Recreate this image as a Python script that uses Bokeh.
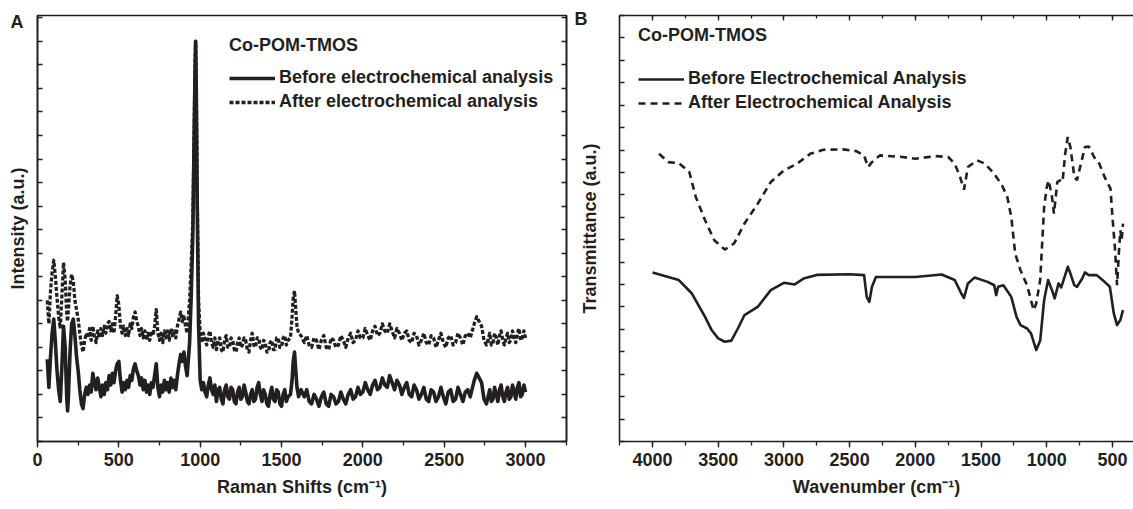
from bokeh.plotting import figure
from bokeh.models import (Range1d, LinearAxis, SingleIntervalTicker, Legend, LegendItem,
                          CustomJSTickFormatter)
from bokeh.layouts import row
from bokeh.embed import file_html
from bokeh.resources import INLINE

# ---------------- Panel A: Raman (x in cm-1, y in arbitrary units) ----------------
raman_x1 = [60, 70, 80, 90, 100, 110, 120, 130, 140, 150, 160, 170, 180, 185, 190, 200, 210, 220, 230, 240,
            250, 260, 270, 280, 290, 300]
raman_before1 = [3.5, 2.3, 3.6, 4.6, 5.2, 4.2, 3.0, 2.2, 1.7, 3.2, 4.9, 4.0, 1.8, 1.3, 1.9, 3.8, 5.0, 5.2, 4.5, 3.6,
                 3.0, 2.2, 1.6, 1.4, 2.0, 2.3]
raman_after1 = [6.0, 5.0, 6.4, 7.2, 7.7, 7.0, 6.1, 5.3, 4.8, 6.2, 7.6, 6.9, 5.4, 5.1, 5.6, 6.6, 7.1, 6.8, 6.0, 5.6,
                5.2, 4.6, 4.1, 3.8, 4.3, 4.6]

raman_x2 = [310, 320, 330, 340, 350, 360, 370, 380, 390, 400, 410, 420, 430, 440, 450, 460, 470, 480, 490, 500,
            510, 520, 530, 540, 550, 560, 570, 580, 590, 600, 610, 620, 630, 640, 650, 660, 670, 680, 690, 700,
            710, 720, 730, 740, 750, 760, 770, 780, 790, 800, 810, 820, 830, 840, 850, 860, 870, 880, 890, 900,
            910, 920]
raman_before2 = [2.0, 2.4, 2.1, 2.9, 2.5, 2.2, 2.7, 2.3, 1.9, 2.4,
                 2.0, 2.5, 2.2, 2.8, 2.4, 2.9, 2.5, 3.0, 3.3, 3.4,
                 2.6, 2.1, 2.5, 2.2, 2.6, 2.3, 2.8, 2.6, 3.1, 3.3,
                 3.0, 2.8, 2.4, 2.7, 2.2, 2.6, 2.1, 2.4, 2.0, 2.5,
                 2.3, 2.8, 3.3, 2.3, 1.9, 2.4, 2.1, 2.6, 2.2, 2.5,
                 2.1, 2.7, 2.3, 2.6, 2.2, 2.8, 3.3, 3.7, 3.4, 3.8,
                 3.2, 2.8]
raman_after2 = [4.4, 4.8, 4.3, 4.9, 4.5, 4.2, 4.7, 4.4, 4.8, 4.5,
                4.9, 4.6, 5.0, 5.1, 4.7, 5.0, 4.6, 5.3, 6.2, 5.8,
                4.9, 4.6, 4.9, 4.5, 4.8, 4.5, 5.0, 4.8, 5.3, 5.5,
                5.1, 4.9, 4.5, 4.8, 4.4, 4.7, 4.3, 4.6, 4.3, 4.7,
                4.5, 4.9, 5.6, 4.6, 4.3, 4.6, 4.2, 4.7, 4.4, 4.7,
                4.3, 4.8, 4.5, 4.7, 4.4, 4.9, 5.2, 5.5, 5.1, 5.3,
                4.9, 4.6]

raman_x3 = [935, 945, 955, 962, 968, 972, 976, 982, 990, 1000, 1010]
raman_before3 = [4.2, 6.2, 8.8, 12.5, 15.5, 17.0, 15.0, 10.0, 5.0, 2.6, 2.2]
raman_after3 = [6.0, 7.6, 9.4, 12.8, 15.8, 17.0, 15.2, 10.5, 6.0, 4.6, 4.2]

raman_x4 = [1020, 1030, 1040, 1050, 1060, 1070, 1080, 1090, 1100, 1110,
            1120, 1130, 1140, 1150, 1160, 1170, 1180, 1190, 1200, 1210,
            1220, 1230, 1240, 1250, 1260, 1270, 1280, 1290, 1300, 1310,
            1320, 1330, 1340, 1350, 1360, 1370, 1380, 1390, 1400, 1410,
            1420, 1430, 1440, 1450, 1460, 1470, 1480, 1490, 1500, 1510,
            1520, 1530, 1540]
raman_before4 = [2.5, 2.1, 1.9, 2.4, 2.7, 2.2, 2.0, 2.4, 1.7, 2.2,
                 2.3, 1.8, 1.6, 2.2, 2.4, 1.9, 1.8, 2.3, 2.2, 1.7,
                 1.6, 2.1, 2.3, 1.8, 1.9, 2.4, 2.1, 1.7, 1.6, 2.0,
                 2.2, 1.7, 1.8, 2.3, 2.5, 2.0, 1.7, 2.2, 2.0, 1.6,
                 1.5, 2.0, 2.3, 1.8, 1.7, 2.2, 2.1, 1.6, 1.5, 2.0,
                 2.2, 1.7, 1.9]
raman_after4 = [4.6, 4.3, 4.1, 4.5, 4.7, 4.2, 4.0, 4.4, 3.9, 4.3,
                4.4, 3.9, 3.8, 4.3, 4.5, 4.0, 4.0, 4.4, 4.3, 3.9,
                3.8, 4.2, 4.4, 4.0, 4.1, 4.4, 4.3, 3.9, 3.8, 4.3,
                4.6, 4.1, 4.0, 4.4, 4.4, 4.0, 3.9, 4.3, 4.2, 3.8,
                3.8, 4.2, 4.3, 3.9, 3.9, 4.4, 4.4, 4.0, 4.0, 4.4,
                4.5, 4.1, 4.3]

raman_x5 = [1555, 1565, 1572, 1580, 1588, 1595, 1605, 1620]
raman_before5 = [2.0, 2.6, 3.4, 3.8, 3.0, 2.3, 1.9, 2.2]
raman_after5 = [4.4, 5.3, 6.1, 6.4, 5.6, 4.9, 4.6, 4.5]

raman_x6 = [1640, 1655, 1670, 1685, 1700, 1715, 1730, 1745, 1760, 1775,
            1790, 1805, 1820, 1835, 1850, 1865, 1880, 1895, 1910, 1925,
            1940, 1955, 1970, 1985, 2000, 2015, 2030, 2045, 2060, 2075,
            2090, 2105, 2120, 2135, 2150, 2165, 2180, 2195, 2210, 2225,
            2240, 2255, 2270, 2285, 2300, 2315, 2330, 2345, 2360, 2375,
            2390, 2405, 2420, 2435, 2450, 2465, 2480, 2495, 2510, 2525,
            2540, 2555, 2570, 2585, 2600, 2615, 2630, 2645, 2660]
raman_before6 = [1.9, 2.2, 1.7, 1.6, 2.0, 1.8, 1.5, 1.9, 2.1, 1.6,
                 1.5, 2.0, 1.9, 1.6, 1.7, 2.1, 1.8, 1.6, 2.0, 2.2,
                 1.8, 1.9, 2.3, 2.0, 2.1, 2.5, 2.2, 2.0, 2.4, 2.6,
                 2.2, 2.3, 2.7, 2.4, 2.3, 2.8, 2.5, 2.2, 2.6, 2.4,
                 2.0, 2.3, 2.5, 2.0, 1.9, 2.4, 2.2, 1.8, 2.0, 2.3,
                 1.8, 1.7, 2.2, 2.1, 1.7, 1.9, 2.3, 1.9, 1.6, 2.1,
                 2.2, 1.7, 1.8, 2.3, 2.0, 1.7, 2.1, 2.2, 1.9]
raman_after6 = [4.2, 4.5, 4.1, 4.0, 4.4, 4.3, 3.9, 4.3, 4.5, 4.0,
                3.9, 4.4, 4.3, 4.0, 4.1, 4.5, 4.3, 4.0, 4.4, 4.6,
                4.2, 4.3, 4.7, 4.4, 4.4, 4.8, 4.5, 4.3, 4.7, 4.9,
                4.5, 4.6, 5.0, 4.7, 4.6, 5.0, 4.7, 4.4, 4.8, 4.6,
                4.3, 4.6, 4.7, 4.3, 4.2, 4.6, 4.5, 4.1, 4.3, 4.6,
                4.2, 4.1, 4.5, 4.4, 4.0, 4.3, 4.6, 4.2, 4.0, 4.4,
                4.5, 4.1, 4.2, 4.6, 4.4, 4.1, 4.5, 4.6, 4.4]

raman_x7 = [2685, 2700, 2715, 2730, 2745]
raman_before7 = [2.6, 2.9, 2.7, 2.5, 1.8]
raman_after7 = [5.0, 5.3, 5.1, 4.9, 4.3]

raman_x8 = [2760, 2770, 2780, 2790, 2800, 2810, 2820, 2830, 2840, 2850, 2860, 2870, 2880, 2890, 2900,
            2910, 2920, 2930, 2940, 2950, 2960, 2970, 2980, 2990, 3000]
raman_before8 = [1.6, 1.9, 2.2, 1.7, 1.8, 2.3, 2.0, 1.7, 2.2, 2.4, 1.9, 1.7, 2.1, 2.3, 1.8,
                 1.9, 2.4, 2.1, 1.8, 2.3, 2.5, 1.9, 2.0, 2.4, 2.1]
raman_after8 = [4.1, 4.3, 4.6, 4.1, 4.2, 4.6, 4.4, 4.1, 4.5, 4.7, 4.3, 4.1, 4.4, 4.6, 4.2,
                4.3, 4.7, 4.4, 4.2, 4.6, 4.8, 4.3, 4.4, 4.7, 4.4]

raman_x = raman_x1 + raman_x2 + raman_x3 + raman_x4 + raman_x5 + raman_x6 + raman_x7 + raman_x8
raman_before = (raman_before1 + raman_before2 + raman_before3 + raman_before4 + raman_before5
                + raman_before6 + raman_before7 + raman_before8)
raman_after = (raman_after1 + raman_after2 + raman_after3 + raman_after4 + raman_after5
               + raman_after6 + raman_after7 + raman_after8)

# ---------------- Panel B: FTIR (x in cm-1, reversed) ----------------
ftir_before_x = [4000, 3800, 3700, 3600, 3550, 3500, 3450, 3400, 3350, 3300, 3200, 3100, 3000, 2920, 2850,
                 2750, 2500, 2390, 2370, 2350, 2330, 2300, 2000, 1800, 1700, 1650, 1630, 1600, 1550, 1450,
                 1400, 1385, 1370, 1330, 1270, 1230, 1200, 1150, 1120, 1080, 1050, 1020, 990, 960, 940,
                 910, 890, 860, 840, 820, 790, 770, 730, 710, 680, 620, 560, 520, 490, 465, 440, 420]
ftir_before_y = [7.54, 7.2, 6.6, 5.56, 4.97, 4.6, 4.45, 4.5, 5.04, 5.64, 6.0, 6.75, 7.08, 7.0, 7.27,
                 7.43, 7.46, 7.42, 6.45, 6.23, 6.9, 7.34, 7.34, 7.45, 7.2, 6.6, 6.4, 7.05, 7.31, 7.12,
                 6.97, 6.53, 6.9, 6.97, 6.45, 5.56, 5.19, 5.04, 4.82, 4.08, 4.5, 6.3, 7.2, 6.75, 6.38,
                 7.05, 6.87, 7.42, 7.79, 7.49, 6.97, 6.9, 7.27, 7.54, 7.42, 7.42, 7.12, 6.9, 5.71, 5.19,
                 5.42, 5.86]
ftir_after_x = [3950, 3880, 3800, 3720, 3670, 3600, 3530, 3450, 3380, 3300, 3200, 3100, 3000, 2900, 2800,
                2700, 2550, 2450, 2390, 2360, 2330, 2270, 2100, 2000, 1850, 1750, 1700, 1660, 1630, 1600,
                1530, 1470, 1400, 1340, 1300, 1270, 1240, 1200, 1150, 1100, 1080, 1050, 1020, 1000, 985,
                960, 945, 920, 900, 880, 860, 840, 820, 790, 770, 740, 710, 680, 640, 600, 560, 515, 500,
                480, 465, 450, 440, 430, 420]
ftir_after_y = [12.83, 12.46, 12.42, 12.02, 10.9, 9.87, 8.98, 8.56, 8.83, 9.72, 10.6, 11.57, 12.09, 12.39,
                12.83, 13.01, 13.03, 12.95, 12.76, 12.24, 12.46, 12.76, 12.69, 12.61, 12.73, 12.69, 12.39,
                11.8, 11.23, 12.24, 12.54, 12.39, 11.94, 11.42, 10.9, 10.01, 8.38, 7.64, 6.97, 5.86, 6.16,
                7.2, 10.46, 11.35, 11.65, 10.9, 10.16, 11.57, 11.65, 11.57, 12.83, 13.58, 13.13, 11.8,
                11.65, 12.39, 13.13, 13.16, 12.69, 12.39, 11.8, 11.28, 10.01, 8.53, 6.97, 8.53, 9.42, 8.98,
                9.72]

panel_letters = ["A", "B"]

INK = "#231f20"
FONT = "Liberation Sans"
FS = "18px"

blank = CustomJSTickFormatter(code="return ''")


def style_common(p):
    p.grid.visible = False
    p.background_fill_color = "white"
    p.border_fill_color = "white"
    for ax in p.axis:
        ax.axis_line_color = INK
        ax.axis_line_width = 1.6
        ax.major_tick_line_color = INK
        ax.minor_tick_line_color = INK
        ax.major_tick_line_width = 1.3
        ax.minor_tick_line_width = 1.3
        ax.major_label_text_font = FONT
        ax.major_label_text_font_size = FS
        ax.major_label_text_font_style = "bold"
        ax.major_label_text_color = INK
        ax.axis_label_text_font = FONT
        ax.axis_label_text_font_size = FS
        ax.axis_label_text_font_style = "bold"
        ax.axis_label_text_color = INK


def bottom_axis(p, label, standoff=8):
    ax = p.xaxis[0]
    ax.ticker = SingleIntervalTicker(interval=500, num_minor_ticks=2)
    ax.major_tick_out = 6
    ax.major_tick_in = 0
    ax.minor_tick_out = 4
    ax.minor_tick_in = 0
    ax.major_label_standoff = 5
    ax.axis_label = label
    ax.axis_label_standoff = standoff


def y_axis_inward(ax):
    ax.ticker = SingleIntervalTicker(interval=1, num_minor_ticks=0)
    ax.formatter = blank
    ax.major_tick_in = 5
    ax.major_tick_out = 0
    ax.minor_tick_in = 0
    ax.minor_tick_out = 0
    ax.major_label_standoff = 0


def letter_title(p, letter, offset, standoff):
    t = p.title
    t.text = letter
    t.align = "left"
    t.offset = offset
    t.standoff = standoff
    t.text_font = FONT
    t.text_font_size = "18px"
    t.text_font_style = "bold"
    t.text_color = INK


# ---------- Panel A ----------
p1 = figure(width=570, height=509, x_range=Range1d(0, 3252), y_range=Range1d(0, 18.1),
            min_border_left=37, min_border_right=4, min_border_top=13, min_border_bottom=68,
            output_backend="svg", toolbar_location=None)
p1.outline_line_color = INK
p1.outline_line_width = 1.6

r_after = p1.line(raman_x, raman_after, line_color=INK, line_width=3.3, line_dash="4 2",
                  line_join="round")
r_before = p1.line(raman_x, raman_before, line_color=INK, line_width=3.6, line_join="round")

bottom_axis(p1, "Raman Shifts (cm\u207b\u00b9)")
y_axis_inward(p1.yaxis[0])
p1.yaxis[0].axis_label = "Intensity (a.u.)"
p1.yaxis[0].axis_label_standoff = 10
rax = LinearAxis()
y_axis_inward(rax)
p1.add_layout(rax, "right")
style_common(p1)
letter_title(p1, panel_letters[0], -27, -32)

leg1 = Legend(items=[LegendItem(label="Before electrochemical analysis", renderers=[r_before]),
                     LegendItem(label="After electrochemical analysis", renderers=[r_after])],
              title="Co-POM-TMOS", location=(192, 329))
p1.add_layout(leg1)

# ---------- Panel B ----------
p2 = figure(width=563, height=509, x_range=Range1d(4251, 340), y_range=Range1d(0, 19),
            min_border_left=49, min_border_right=0, min_border_top=15, min_border_bottom=67,
            output_backend="svg", toolbar_location=None)
p2.outline_line_color = None

r2_after = p2.line(ftir_after_x, ftir_after_y, line_color=INK, line_width=2.6, line_dash="7 5")
r2_before = p2.line(ftir_before_x, ftir_before_y, line_color=INK, line_width=2.6, line_join="round")

bottom_axis(p2, "Wavenumber (cm\u207b\u00b9)")
y_axis_inward(p2.yaxis[0])
p2.yaxis[0].axis_label = "Transmittance (a.u.)"
p2.yaxis[0].axis_label_standoff = 20
tax = LinearAxis()
tax.ticker = SingleIntervalTicker(interval=500, num_minor_ticks=2)
tax.formatter = blank
tax.major_tick_in = 5
tax.major_tick_out = 0
tax.minor_tick_in = 3
tax.minor_tick_out = 0
tax.major_label_standoff = 0
p2.add_layout(tax, "above")
style_common(p2)
letter_title(p2, panel_letters[1], -45, -26)

leg2 = Legend(items=[LegendItem(label="Before Electrochemical Analysis", renderers=[r2_before]),
                     LegendItem(label="After Electrochemical Analysis", renderers=[r2_after])],
              title="Co-POM-TMOS", location=(19, 328))
p2.add_layout(leg2)

for lg, st in ((leg1, 11), (leg2, 22)):
    lg.title_text_font = FONT
    lg.title_text_font_size = FS
    lg.title_text_font_style = "bold"
    lg.title_text_color = INK
    lg.title_standoff = st
    lg.label_text_font = FONT
    lg.label_text_font_size = FS
    lg.label_text_font_style = "bold"
    lg.label_text_color = INK
    lg.glyph_width = 46
    lg.glyph_height = 20
    lg.label_height = 20
    lg.label_standoff = 4
    lg.spacing = 3
    lg.padding = 0
    lg.margin = 0
    lg.border_line_color = None
    lg.background_fill_alpha = 0

layout = row(p1, p2)
open("out.html", "w").write(file_html(layout, INLINE))
